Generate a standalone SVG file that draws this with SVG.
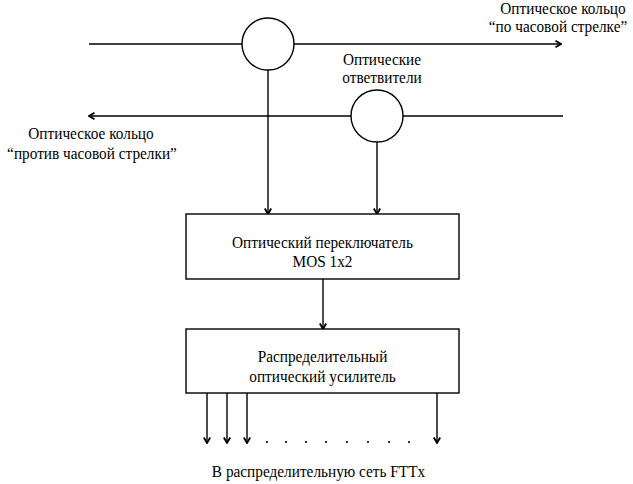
<svg xmlns="http://www.w3.org/2000/svg" width="633" height="484" viewBox="0 0 633 484">
<style>
  .ln { stroke: #000; stroke-width: 1.4; fill: none; }
  .nd { stroke: #000; stroke-width: 1.4; fill: #fff; }
  .tx { font-family: "Liberation Serif", "Times New Roman", serif; font-size: 15.3px; fill: #000; text-anchor: middle; }
  .dot { fill: #000; }
</style>
<defs>
  <marker id="arr" viewBox="0 0 8 8" refX="7" refY="4" markerWidth="8" markerHeight="8" markerUnits="userSpaceOnUse" orient="auto">
    <polyline points="1.5,0.8 7,4 1.5,7.2" fill="none" stroke="#000" stroke-width="1.8"/>
  </marker>
</defs>
<rect width="633" height="484" fill="#fff"/>
<g id="connectors">
  <line class="ln" x1="89" y1="44" x2="561" y2="44" marker-end="url(#arr)"/>
  <line class="ln" x1="563" y1="116" x2="89" y2="116" marker-end="url(#arr)"/>
  <line class="ln" x1="268" y1="70" x2="268" y2="214" marker-end="url(#arr)"/>
  <line class="ln" x1="377" y1="142" x2="377" y2="214" marker-end="url(#arr)"/>
  <line class="ln" x1="323" y1="279" x2="323" y2="329" marker-end="url(#arr)"/>
  <line class="ln" x1="207" y1="393" x2="207" y2="443" marker-end="url(#arr)"/>
  <line class="ln" x1="227" y1="393" x2="227" y2="443" marker-end="url(#arr)"/>
  <line class="ln" x1="247" y1="393" x2="247" y2="443" marker-end="url(#arr)"/>
  <line class="ln" x1="437" y1="393" x2="437" y2="443" marker-end="url(#arr)"/>
</g>
<g id="coupler1">
  <circle class="nd" cx="268" cy="44" r="26"/>
</g>
<g id="coupler2">
  <circle class="nd" cx="377" cy="116" r="26"/>
</g>
<g id="label-couplers">
  <text class="tx" transform="translate(382,65) scale(1,1.1)">Оптические</text>
  <text class="tx" transform="translate(382,83) scale(1,1.1)">ответвители</text>
</g>
<g id="label-cw">
  <text class="tx" transform="translate(563,14) scale(1,1.1)">Оптическое кольцо</text>
  <text class="tx" transform="translate(558,32) scale(1,1.1)">“по часовой стрелке”</text>
</g>
<g id="label-ccw">
  <text class="tx" transform="translate(91,139) scale(1,1.1)">Оптическое кольцо</text>
  <text class="tx" transform="translate(92,159) scale(1,1.1)">“против часовой стрелки”</text>
</g>
<g id="switch">
  <rect class="nd" x="186" y="214" width="273" height="65"/>
  <text class="tx" transform="translate(322.5,248) scale(1,1.1)">Оптический переключатель</text>
  <text class="tx" transform="translate(322.5,267) scale(1,1.1)">MOS 1x2</text>
</g>
<g id="amplifier">
  <rect class="nd" x="186" y="329" width="273" height="64"/>
  <text class="tx" transform="translate(322.5,362) scale(1,1.1)">Распределительный</text>
  <text class="tx" transform="translate(322.5,382) scale(1,1.1)">оптический усилитель</text>
</g>
<g id="dots">
  <circle class="dot" cx="267" cy="442" r="1.1"/>
  <circle class="dot" cx="286" cy="442" r="1.1"/>
  <circle class="dot" cx="306" cy="442" r="1.1"/>
  <circle class="dot" cx="326" cy="442" r="1.1"/>
  <circle class="dot" cx="347" cy="442" r="1.1"/>
  <circle class="dot" cx="368" cy="442" r="1.1"/>
  <circle class="dot" cx="389" cy="442" r="1.1"/>
  <circle class="dot" cx="409" cy="442" r="1.1"/>
</g>
<g id="label-out">
  <text class="tx" transform="translate(318.5,477) scale(1,1.1)">В распределительную сеть FTTx</text>
</g>
</svg>
